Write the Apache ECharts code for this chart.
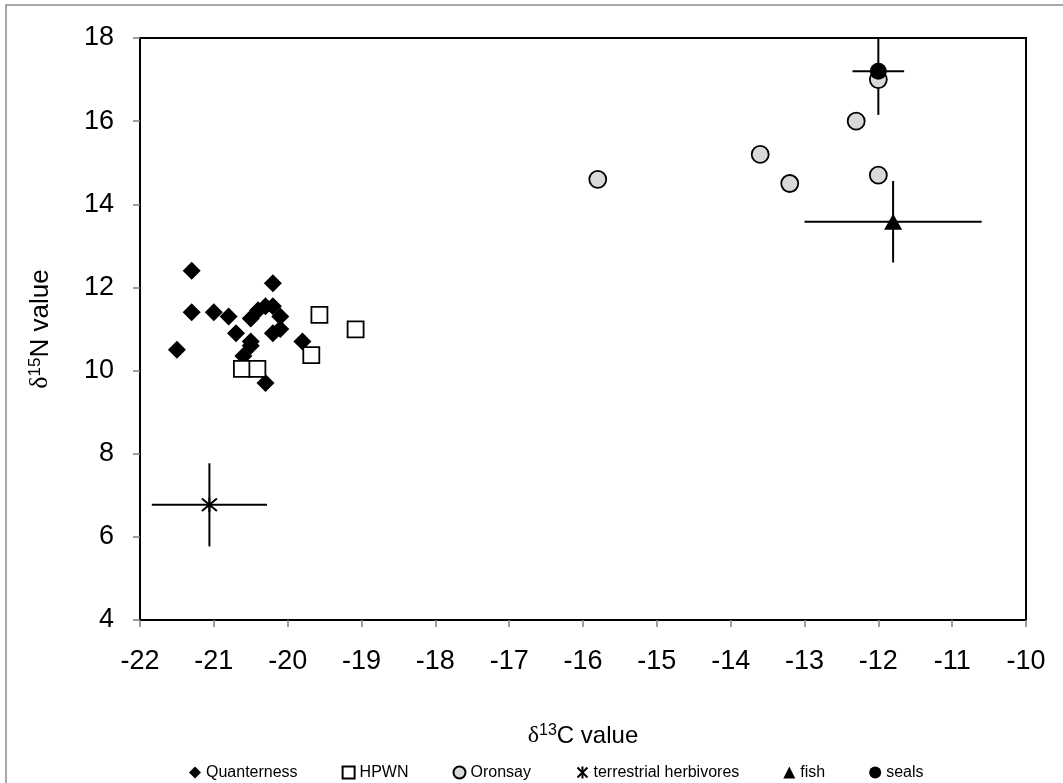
<!DOCTYPE html>
<html>
<head>
<meta charset="utf-8">
<style>
  html, body { margin: 0; padding: 0; background: #fff; }
  #chart { width: 1063px; height: 783px; }
</style>
<script src="https://cdn.jsdelivr.net/npm/echarts@6/dist/echarts.min.js"></script>
</head>
<body>
<div id="chart"></div>
<script>
  // sample points, [δ13C, δ15N]
  const quanterness = [
    [-21.3, 12.4], [-20.2, 12.1], [-21.3, 11.4], [-21.0, 11.4], [-20.8, 11.3],
    [-20.5, 11.25], [-20.4, 11.45], [-20.3, 11.55], [-20.2, 11.55], [-20.1, 11.3],
    [-20.1, 11.0], [-20.2, 10.9], [-20.7, 10.9], [-20.5, 10.7], [-20.5, 10.6],
    [-20.6, 10.35], [-21.5, 10.5], [-19.8, 10.7], [-20.3, 9.7]
  ]
  const hpwn = [[-19.57, 11.34], [-19.08, 10.99], [-19.68, 10.37], [-20.62, 10.04], [-20.41, 10.04]]
  const oronsay = [[-12.0, 17.0], [-12.3, 16.0], [-13.6, 15.2], [-13.2, 14.5], [-12.0, 14.7], [-15.8, 14.6]]

  // means with spread: [x, y, xErr, yErr]
  const herbivores = [[-21.06, 6.77, 0.78, 1.0]]
  const fish = [[-11.8, 13.58, 1.2, 0.98]]
  const seals = [[-12.0, 17.2, 0.35, 1.05]]

  const xTicks = { min: -22, max: -10, step: 1 }
  const yTicks = { min: 4, max: 18, step: 2 }

  const legendNames = ["Quanterness", "HPWN", "Oronsay", "terrestrial herbivores", "fish", "seals"]

  const font = "Liberation Sans, Arial, sans-serif"
  const starPath = "path://M0,0L10,10M10,0L0,10M5,-1L5,11"

  const chart = echarts.init(document.getElementById("chart"))

  const errorBars = herbivores.concat(fish, seals)

  const renderError = (params, api) => {
    const x = api.value(0)
    const y = api.value(1)
    const dx = api.value(2)
    const dy = api.value(3)
    const l = api.coord([x - dx, y])
    const r = api.coord([x + dx, y])
    const t = api.coord([x, y + dy])
    const b = api.coord([x, y - dy])
    const style = { stroke: "#000", lineWidth: 2 }
    return {
      type: "group",
      children: [
        { type: "line", shape: { x1: l[0], y1: l[1], x2: r[0], y2: r[1] }, style },
        { type: "line", shape: { x1: t[0], y1: t[1], x2: b[0], y2: b[1] }, style }
      ]
    }
  }

  const titleRich = (size) => ({
    d: { fontFamily: "Liberation Serif, serif", fontSize: size, color: "#000" },
    s: { fontSize: Math.round(size * 0.65), color: "#000", verticalAlign: "top", padding: [0, 0, Math.round(size * 0.4), 0] },
    n: { fontSize: size, color: "#000" }
  })

  chart.setOption({
    animation: false,
    backgroundColor: "#fff",
    textStyle: { fontFamily: font },
    graphic: [
      {
        type: "rect",
        shape: { x: 6, y: 5, width: 1080, height: 800 },
        style: { fill: "none", stroke: "#8c8c8c", lineWidth: 1.5 },
        silent: true
      }
    ],
    grid: {
      left: 140,
      top: 38,
      right: 37,
      bottom: 163,
      show: true,
      borderColor: "#000",
      borderWidth: 2
    },
    legend: {
      top: 759,
      left: 184,
      data: legendNames,
      itemWidth: 12,
      itemHeight: 12,
      itemGap: 44,
      textStyle: { fontSize: 16, color: "#000", fontFamily: font }
    },
    xAxis: {
      type: "value",
      min: xTicks.min,
      max: xTicks.max,
      interval: xTicks.step,
      name: "{d|δ}{s|13}{n|C value}",
      nameLocation: "middle",
      nameGap: 103,
      nameTextStyle: { rich: titleRich(24) },
      splitLine: { show: false },
      axisLine: { onZero: false, lineStyle: { color: "#000", width: 2 } },
      axisTick: { length: 7, lineStyle: { color: "#808080", width: 1.5 } },
      axisLabel: { color: "#000", fontSize: 27, margin: 28 }
    },
    yAxis: {
      type: "value",
      min: yTicks.min,
      max: yTicks.max,
      interval: yTicks.step,
      name: "{d|δ}{s|15}{n|N value}",
      nameLocation: "middle",
      nameGap: 86,
      nameTextStyle: { rich: titleRich(26) },
      splitLine: { show: false },
      axisLine: { onZero: false, lineStyle: { color: "#000", width: 2 } },
      axisTick: { length: 7, lineStyle: { color: "#808080", width: 1.5 } },
      axisLabel: { color: "#000", fontSize: 27, margin: 26 }
    },
    series: [
      {
        type: "custom",
        name: "errors",
        data: errorBars,
        renderItem: renderError,
        clip: true,
        z: 1,
        silent: true
      },
      {
        name: "Quanterness",
        type: "scatter",
        data: quanterness,
        symbol: "diamond",
        symbolSize: 18,
        itemStyle: { color: "#000", opacity: 1 },
        z: 3
      },
      {
        name: "HPWN",
        type: "scatter",
        data: hpwn,
        symbol: "rect",
        symbolSize: 16,
        itemStyle: { color: "#fff", borderColor: "#000", borderWidth: 1.8, opacity: 1 },
        z: 4
      },
      {
        name: "Oronsay",
        type: "scatter",
        data: oronsay,
        symbol: "circle",
        symbolSize: 17,
        itemStyle: { color: "#d9d9d9", borderColor: "#000", borderWidth: 1.8, opacity: 1 },
        z: 3
      },
      {
        name: "terrestrial herbivores",
        type: "scatter",
        data: herbivores.map(d => [d[0], d[1]]),
        symbol: starPath,
        symbolSize: 15,
        itemStyle: { color: "none", borderColor: "#000", borderWidth: 2, opacity: 1 },
        z: 3
      },
      {
        name: "fish",
        type: "scatter",
        data: fish.map(d => [d[0], d[1]]),
        symbol: "triangle",
        symbolSize: [18, 16],
        itemStyle: { color: "#000", opacity: 1 },
        z: 3
      },
      {
        name: "seals",
        type: "scatter",
        data: seals.map(d => [d[0], d[1]]),
        symbol: "circle",
        symbolSize: 17,
        itemStyle: { color: "#000", opacity: 1 },
        z: 5
      }
    ]
  })

  window.addEventListener("resize", () => {
    chart.resize()
  })
</script>
</body>
</html>
